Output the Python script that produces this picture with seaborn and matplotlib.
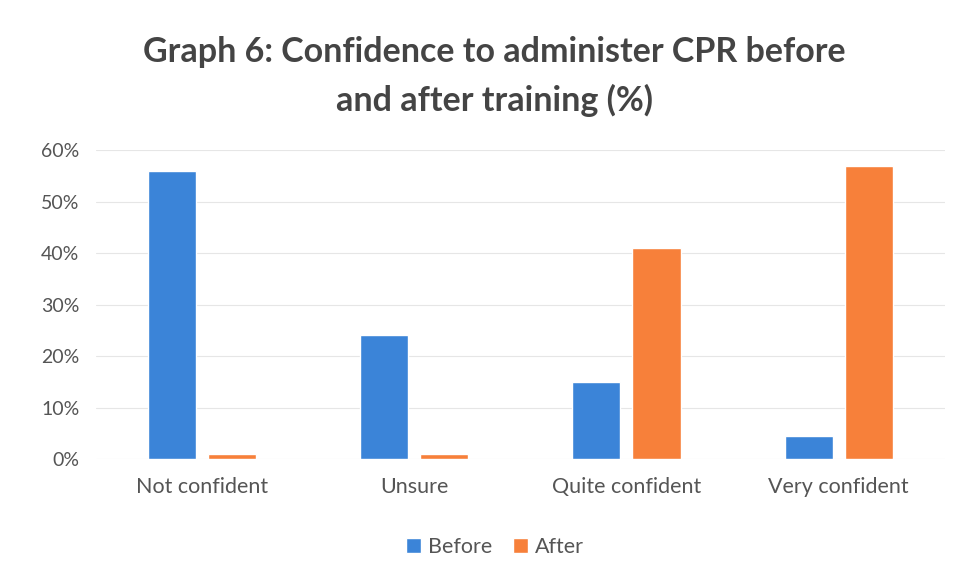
import matplotlib
matplotlib.use("Agg")
import matplotlib.pyplot as plt
import pandas as pd
import seaborn as sns
from matplotlib.ticker import PercentFormatter

categories = ["Not confident", "Unsure", "Quite confident", "Very confident"]
before = [56, 24, 15, 4.5]
after = [1, 1, 41, 57]

df = pd.DataFrame({
    "category": categories * 2,
    "value": before + after,
    "when": ["Before"] * 4 + ["After"] * 4,
})

sns.set_theme(style="white")
plt.rcParams["font.family"] = ["Lato", "DejaVu Sans"]

fig = plt.figure(figsize=(9.65, 5.8), dpi=100)
ax = fig.add_axes([0.0995, 0.2086, 0.8795, 0.5324])

sns.barplot(data=df, x="category", y="value", hue="when", order=categories,
            hue_order=["Before", "After"], palette=["#3B84D8", "#F7803A"],
            width=0.566, gap=0.2, saturation=1, ax=ax)

ax.set_ylim(0, 60)
ax.set_yticks(range(0, 61, 10))
ax.yaxis.set_major_formatter(PercentFormatter(decimals=0))
ax.grid(axis="y", color="#e6e6e6", linewidth=0.8)
ax.set_axisbelow(True)
for s in ax.spines.values():
    s.set_visible(False)
ax.set_xlabel("")
ax.set_ylabel("")
ax.tick_params(axis="both", length=0, colors="#555555")
ax.tick_params(axis="x", pad=13, labelsize=15.5)
ax.tick_params(axis="y", pad=12, labelsize=14)

ax.legend(loc="upper center", bbox_to_anchor=(0.47, -0.19), ncol=2, frameon=False,
          fontsize=15.5, handlelength=0.7, handleheight=0.7, handletextpad=0.3,
          columnspacing=1.0, labelcolor="#555555")

fig.text(0.512, 0.91, "Graph 6: Confidence to administer CPR before", ha="center",
         va="center", fontsize=24.5, fontweight="bold", color="#444444")
fig.text(0.512, 0.827, "and after training (%)", ha="center",
         va="center", fontsize=24.5, fontweight="bold", color="#444444")

fig.savefig("out.png", dpi=100)
